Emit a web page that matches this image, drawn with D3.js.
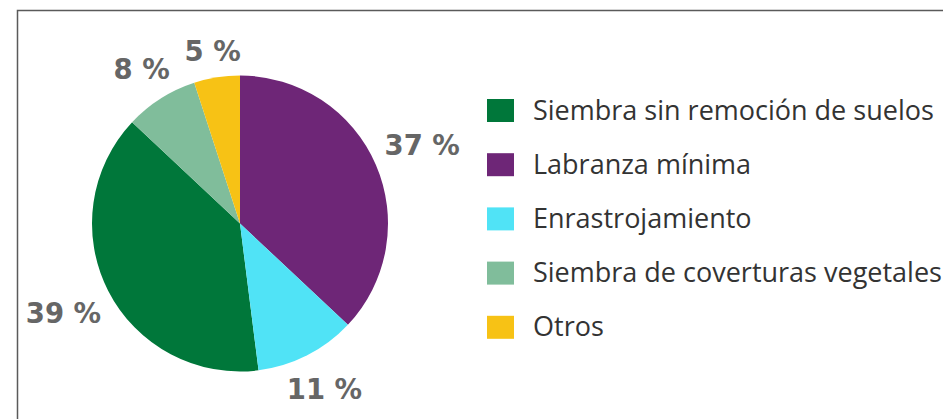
<!DOCTYPE html>
<html>
<head>
<meta charset="utf-8">
<script src="https://cdn.jsdelivr.net/npm/d3@7"></script>
<style>
  body { margin: 0; background: #fff; }
</style>
</head>
<body>
<div id="main"></div>
<script>
var ctx = {
    w: 943,
    h: 419,
    cx: 240,
    cy: 223.5,
    r: 148
};

// categories in legend order
var categories = ["Siembra sin remoción de suelos", "Labranza mínima", "Enrastrojamiento",
                  "Siembra de coverturas vegetales", "Otros"];
// percentages as printed on the chart
var values = [39, 37, 11, 8, 5];
var colors = ["#00773a", "#6e2677", "#50e3f6", "#80bd9b", "#f7c215"];
// clockwise order of the slices, starting at 12 o'clock
var pieOrder = ["Labranza mínima", "Enrastrojamiento", "Siembra sin remoción de suelos",
                "Siembra de coverturas vegetales", "Otros"];

var color = d3.scaleOrdinal().domain(categories).range(colors);

var createViz = function(){
    var svg = d3.select("#main").append("svg")
        .attr("width", ctx.w)
        .attr("height", ctx.h);

    // frame (top and left edges only)
    svg.append("path")
        .attr("d", "M17.5,419 L17.5,10.5 L943,10.5")
        .attr("fill", "none")
        .attr("stroke", "#5a5a5a")
        .attr("stroke-width", 1.5);

    var data = categories.map(function(c, i){ return {name: c, value: values[i]}; });

    var pie = d3.pie()
        .value(function(d){ return d.value; })
        .sort(function(a, b){ return pieOrder.indexOf(a.name) - pieOrder.indexOf(b.name); });
    var arcs = pie(data);

    var arc = d3.arc().innerRadius(0).outerRadius(ctx.r);

    var g = svg.append("g").attr("transform", "translate(" + ctx.cx + "," + ctx.cy + ")");

    g.selectAll("path.slice")
        .data(arcs)
        .enter()
        .append("path")
        .attr("class", "slice")
        .attr("d", arc)
        .attr("fill", function(d){ return color(d.data.name); });

    // percentage labels outside the pie, centred on the slice's mid-angle
    var pad = 12;
    var labels = g.selectAll("text.pct")
        .data(arcs)
        .enter()
        .append("text")
        .attr("class", "pct")
        .attr("text-anchor", "middle")
        .style("font-family", "'DejaVu Sans', sans-serif")
        .style("font-weight", "bold")
        .style("font-size", "27.5px")
        .style("fill", "#666666")
        .text(function(d){ return d.data.value + " %"; });

    labels.each(function(d){
        var t = d3.select(this);
        var w = this.getComputedTextLength();
        var h = 20;
        var a = (d.startAngle + d.endAngle) / 2;
        var s = Math.sin(a), c = Math.cos(a);
        var dist = ctx.r + pad + Math.abs(s) * w / 2 + Math.abs(c) * h / 2;
        t.attr("x", dist * s)
         .attr("y", -dist * c + h / 2);
    });

    // legend
    var legend = svg.append("g").attr("transform", "translate(487,99)");
    var items = legend.selectAll("g.item")
        .data(categories)
        .enter()
        .append("g")
        .attr("class", "item")
        .attr("transform", function(d, i){ return "translate(0," + (i * 54.2) + ")"; });

    items.append("rect")
        .attr("width", 27)
        .attr("height", 23)
        .attr("fill", function(d){ return color(d); });

    items.append("text")
        .attr("x", 46)
        .attr("y", 20.5)
        .style("font-family", "'Open Sans', sans-serif")
        .style("font-size", "27px")
        .style("fill", "#333333")
        .text(function(d){ return d; });
};

createViz();
</script>
</body>
</html>
